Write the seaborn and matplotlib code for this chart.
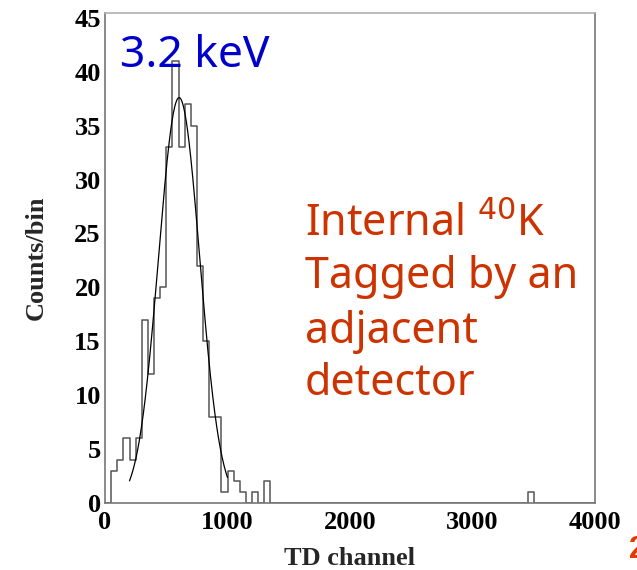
import numpy as np
import pandas as pd
import matplotlib
matplotlib.use("Agg")
import matplotlib.pyplot as plt
from matplotlib.ticker import MultipleLocator
import seaborn as sns

# ---- data ----
bin_start = [50, 100, 150, 200, 250, 300, 350, 400, 450, 500, 550, 600, 650, 700,
             750, 800, 850, 900, 950, 1000, 1050, 1100, 1200, 1300, 3450]
counts = [3, 4, 6, 4, 6, 17, 12, 19, 20, 33, 41, 33, 37, 35,
          22, 15, 8, 8, 1, 3, 2, 1, 1, 2, 1]
bin_width = 50

# Gaussian fit parameters (amplitude, mean, sigma) and fit range
fit_amp, fit_mean, fit_sigma = 37.6, 605.0, 168.0
fit_range = (200, 1000)

x_ticks = [0, 1000, 2000, 3000, 4000]
y_ticks = [0, 5, 10, 15, 20, 25, 30, 35, 40, 45]

sns.set_style("white")
plt.rcParams['font.family'] = ['Liberation Serif', 'DejaVu Serif']

fig = plt.figure(figsize=(6.37, 5.70), dpi=100)
ax = fig.add_axes([105/637, 1 - 503/570, 490/637, 490/570])

df = pd.DataFrame({"TD": [b + bin_width / 2 for b in bin_start],
                   "n": [float(c) for c in counts]})
sns.histplot(data=df, x="TD", weights="n", binwidth=bin_width, binrange=(0, 4000),
             element="step", fill=False, color="#555555", linewidth=1.1, ax=ax)

xf = np.linspace(fit_range[0], fit_range[1], 300)
yf = fit_amp * np.exp(-0.5 * ((xf - fit_mean) / fit_sigma) ** 2)
sns.lineplot(x=xf, y=yf, color="black", linewidth=0.9, ax=ax)

ax.set_xlim(0, 4000)
ax.set_ylim(0, 45.45)
ax.set_xticks(x_ticks)
ax.set_yticks(y_ticks)
ax.xaxis.set_minor_locator(MultipleLocator(250))
ax.yaxis.set_minor_locator(MultipleLocator(1))
ax.tick_params(axis="both", which="both", direction="in", colors="#777777",
               labelcolor="black", top=False, right=False)
ax.tick_params(axis="x", which="major", length=8, width=1.2, pad=6, labelsize=19)
ax.tick_params(axis="x", which="minor", length=4.5, width=1.0)
ax.tick_params(axis="y", which="major", length=6, width=1.2, pad=3, labelsize=19)
ax.tick_params(axis="y", which="minor", length=3.5, width=1.0)
for lab in ax.get_xticklabels() + ax.get_yticklabels():
    lab.set_fontweight("bold")
for s in ax.spines.values():
    s.set_color("#777777")
    s.set_linewidth(1.2)
ax.spines["top"].set_color("#b0b0b0")

ax.set_xlabel("TD channel", fontsize=19, fontweight="bold", labelpad=9)
ax.set_ylabel("Counts/bin", fontsize=19, fontweight="bold", labelpad=19)

fig.text(120/637, 1 - 67/570, "3.2 keV", color="#0000cc", fontsize=32,
         family=["Noto Sans", "DejaVu Sans"], va="baseline", ha="left")
lines = ["Internal $^{40}$K", "Tagged by an", "adjacent", "detector"]
baselines = [236, 288, 343, 395]
for t, b in zip(lines, baselines):
    fig.text(305/637, 1 - b/570, t, color="#cc3300", fontsize=31,
             family=["Noto Sans", "DejaVu Sans"], va="baseline", ha="left")
fig.text(629/637, 1 - 558/570, "2", color="#e03c00", fontsize=22,
         fontweight="bold", family=["Liberation Sans"], va="baseline", ha="left")

fig.savefig("out.png", dpi=100)
